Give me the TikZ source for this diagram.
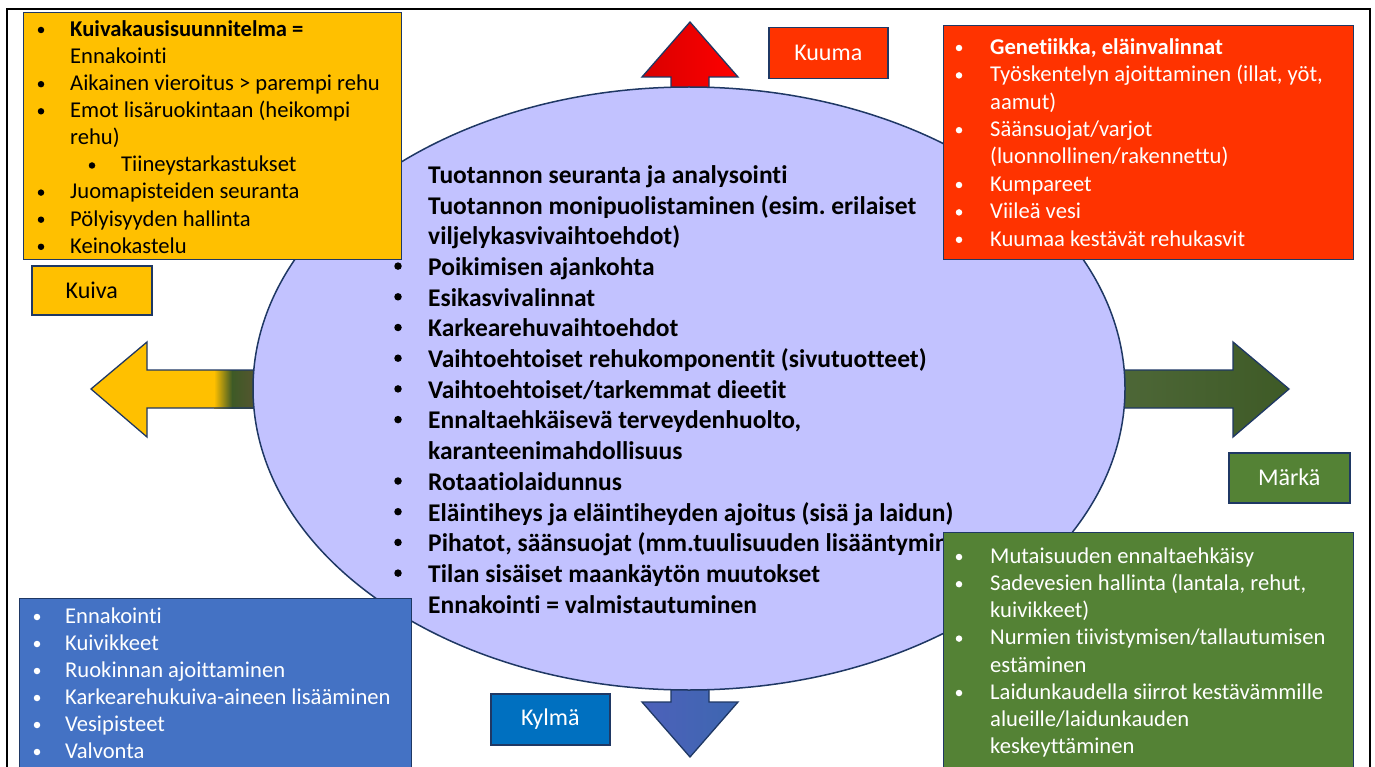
\documentclass[tikz,border=0pt]{standalone}
\usepackage{fontspec}
\setmainfont{Carlito}[Ligatures={NoCommon}]
\usetikzlibrary{shapes.geometric}
\definecolor{ygold}{HTML}{FFC000}
\definecolor{hotred}{HTML}{FF3300}
\definecolor{wetgreen}{HTML}{548235}
\definecolor{coldblue}{HTML}{4472C4}
\definecolor{kylmablue}{HTML}{0070C0}
\definecolor{lav}{RGB}{194,194,255}
\definecolor{navy}{HTML}{1F3864}
\definecolor{darkgreen}{HTML}{3E5A26}
\definecolor{olivebrown}{HTML}{5A5432}
\newcount\itemno
\newcommand{\bitem}[5]{%
 \global\advance\itemno by 1
 \node[bul,#4bul] (b\the\itemno) at (#1,#3) {};
 \node[txt,#4] (t\the\itemno) at (#2,#3) {#5};}
\newcommand{\citem}[4]{%
 \global\advance\itemno by 1
 \node[txt,#3] (t\the\itemno) at (#1,#2) {#4};}
\tikzset{
 bul/.style={circle, inner sep=0pt, minimum size=6.5pt, yshift=-2pt},
 txt/.style={anchor=mid west, inner sep=0pt, yshift=-6pt},
 dk/.style={font=\fontsize{22.6}{27}\selectfont, text=black},
 dkb/.style={font=\fontsize{22.6}{27}\selectfont\bfseries, text=black},
 wh/.style={font=\fontsize{22.6}{27}\selectfont, text=white},
 whb/.style={font=\fontsize{22.6}{27}\selectfont\bfseries, text=white},
 ct/.style={font=\fontsize{25.5}{30}\selectfont\bfseries, text=black},
 dkbul/.style={fill=black},
 dkbbul/.style={fill=black},
 whbul/.style={fill=white},
 whbbul/.style={fill=white},
 ctbul/.style={fill=black, minimum size=7.5pt, yshift=3pt},
 box/.style={draw=navy, line width=1.3pt, anchor=north west, inner sep=0pt},
 lbl/.style={draw=navy, line width=1.5pt, anchor=north west, inner sep=0pt},
 lbltxt/.style={font=\fontsize{24}{28}\selectfont},
 arr/.style={draw=navy, line width=1.3pt, line join=miter},
}
\begin{document}
\frenchspacing
\begin{tikzpicture}[x=1pt,y=-1pt]
\useasboundingbox (0,0) rectangle (1375,767);
\clip (0,0) rectangle (1375,767);
\fill[white] (0,0) rectangle (1375,767);
% frame
\draw[black, line width=2.5pt] (7,9) rectangle (1370,800);
% arrows
\shade[arr, left color=red!85!black, right color=red] (671,95)--(671,77)--(642,77)--(690,22)--(738,77)--(709,77)--(709,95)--cycle;
\fill[ygold] (260,370)--(147,370)--(147,342)--(91,389)--(147,437)--(147,408)--(260,408)--cycle;
\shade[left color=ygold, right color=darkgreen] (214,370) rectangle (232,408);
\shade[left color=darkgreen, right color=olivebrown] (232,370) rectangle (260,408);
\draw[arr] (260,370)--(147,370)--(147,342)--(91,389)--(147,437)--(147,408)--(260,408);
\shade[arr, left color=darkgreen!92!white, right color=darkgreen] (1118,370)--(1233,370)--(1233,342)--(1289,389)--(1233,437)--(1233,408)--(1118,408)--cycle;
\shade[arr, left color=coldblue!85!violet, right color=coldblue!90!black] (671,680)--(671,702)--(642,702)--(690,757)--(738,702)--(709,702)--(709,680)--cycle;
% ellipse
\node[ellipse, draw=navy, line width=1.5pt, fill=lav, minimum width=872, minimum height=603, inner sep=0pt] (ell) at (689,388.5) {};
% centre text
\bitem{398}{428}{175}{ct}{Tuotannon seuranta ja analysointi}
\bitem{398}{428}{205.7}{ct}{Tuotannon monipuolistaminen (esim. erilaiset}
\citem{428}{236.4}{ct}{viljelykasvivaihtoehdot)}
\bitem{398}{428}{267.1}{ct}{Poikimisen ajankohta}
\bitem{398}{428}{297.8}{ct}{Esikasvivalinnat}
\bitem{398}{428}{328.5}{ct}{Karkearehuvaihtoehdot}
\bitem{398}{428}{359.2}{ct}{Vaihtoehtoiset rehukomponentit (sivutuotteet)}
\bitem{398}{428}{389.9}{ct}{Vaihtoehtoiset/tarkemmat dieetit}
\bitem{398}{428}{420.6}{ct}{Ennaltaehkäisevä terveydenhuolto,}
\citem{428}{451.3}{ct}{karanteenimahdollisuus}
\bitem{398}{428}{482}{ct}{Rotaatiolaidunnus}
\bitem{398}{428}{512.7}{ct}{Eläintiheys ja eläintiheyden ajoitus (sisä ja laidun)}
\bitem{398}{428}{543.4}{ct}{Pihatot, säänsuojat (mm.tuulisuuden lisääntymin}
\bitem{398}{428}{574.1}{ct}{Tilan sisäiset maankäytön muutokset}
\bitem{398}{428}{604.8}{ct}{Ennakointi = valmistautuminen}
% yellow box
\node[box, fill=ygold, minimum width=378, minimum height=247] (dryBox) at (23,12) {};
\bitem{41}{70}{28}{dkb}{Kuivakausisuunnitelma =}
\citem{70}{55.1}{dk}{Ennakointi}
\bitem{41}{70}{82.2}{dk}{Aikainen vieroitus > parempi rehu}
\bitem{41}{70}{109.3}{dk}{Emot lisäruokintaan (heikompi}
\citem{70}{136.4}{dk}{rehu)}
\bitem{92}{121}{163.5}{dk}{Tiineystarkastukset}
\bitem{41}{70}{190.6}{dk}{Juomapisteiden seuranta}
\bitem{41}{70}{217.7}{dk}{Pölyisyyden hallinta}
\bitem{41}{70}{244.8}{dk}{Keinokastelu}
\node[lbl, fill=ygold, minimum width=120, minimum height=49] (dryLbl) at (31,265) {};
\node[lbltxt] (dryTxt) at (dryLbl.center) {Kuiva};
% red box
\node[box, fill=hotred, minimum width=410, minimum height=234] (hotBox) at (943,25) {};
\bitem{959}{990}{46}{whb}{Genetiikka, eläinvalinnat}
\bitem{959}{990}{73.4}{wh}{Työskentelyn ajoittaminen (illat, yöt,}
\citem{990}{100.8}{wh}{aamut)}
\bitem{959}{990}{128.2}{wh}{Säänsuojat/varjot}
\citem{990}{155.6}{wh}{(luonnollinen/rakennettu)}
\bitem{959}{990}{183}{wh}{Kumpareet}
\bitem{959}{990}{210.4}{wh}{Viileä vesi}
\bitem{959}{990}{237.8}{wh}{Kuumaa kestävät rehukasvit}
\node[lbl, fill=hotred, minimum width=119, minimum height=51] (hotLbl) at (768,27) {};
\node[lbltxt, text=white] (hotTxt) at (hotLbl.center) {Kuuma};
% green box
\node[box, fill=wetgreen, minimum width=410, minimum height=268] (wetBox) at (943,532) {};
\bitem{959}{990}{555}{wh}{Mutaisuuden ennaltaehkäisy}
\bitem{959}{990}{582.2}{wh}{Sadevesien hallinta (lantala, rehut,}
\citem{990}{609.4}{wh}{kuivikkeet)}
\bitem{959}{990}{636.6}{wh}{Nurmien tiivistymisen/tallautumisen}
\citem{990}{663.8}{wh}{estäminen}
\bitem{959}{990}{691}{wh}{Laidunkaudella siirrot kestävämmille}
\citem{990}{718.2}{wh}{alueille/laidunkauden}
\citem{990}{745.4}{wh}{keskeyttäminen}
\node[lbl, fill=wetgreen, minimum width=121, minimum height=50] (wetLbl) at (1228,452) {};
\node[lbltxt, text=white] (wetTxt) at (wetLbl.center) {Märkä};
% blue box
\node[box, fill=coldblue, minimum width=392, minimum height=202] (coldBox) at (19,598) {};
\bitem{37}{65}{615}{wh}{Ennakointi}
\bitem{37}{65}{642}{wh}{Kuivikkeet}
\bitem{37}{65}{669}{wh}{Ruokinnan ajoittaminen}
\bitem{37}{65}{696}{wh}{Karkearehukuiva-aineen lisääminen}
\bitem{37}{65}{723}{wh}{Vesipisteet}
\bitem{37}{65}{750}{wh}{Valvonta}
\node[lbl, fill=kylmablue, minimum width=119, minimum height=51] (coldLbl) at (490,693) {};
\node[lbltxt, text=white] (coldTxt) at (coldLbl.center) {Kylmä};
\end{tikzpicture}
\end{document}
